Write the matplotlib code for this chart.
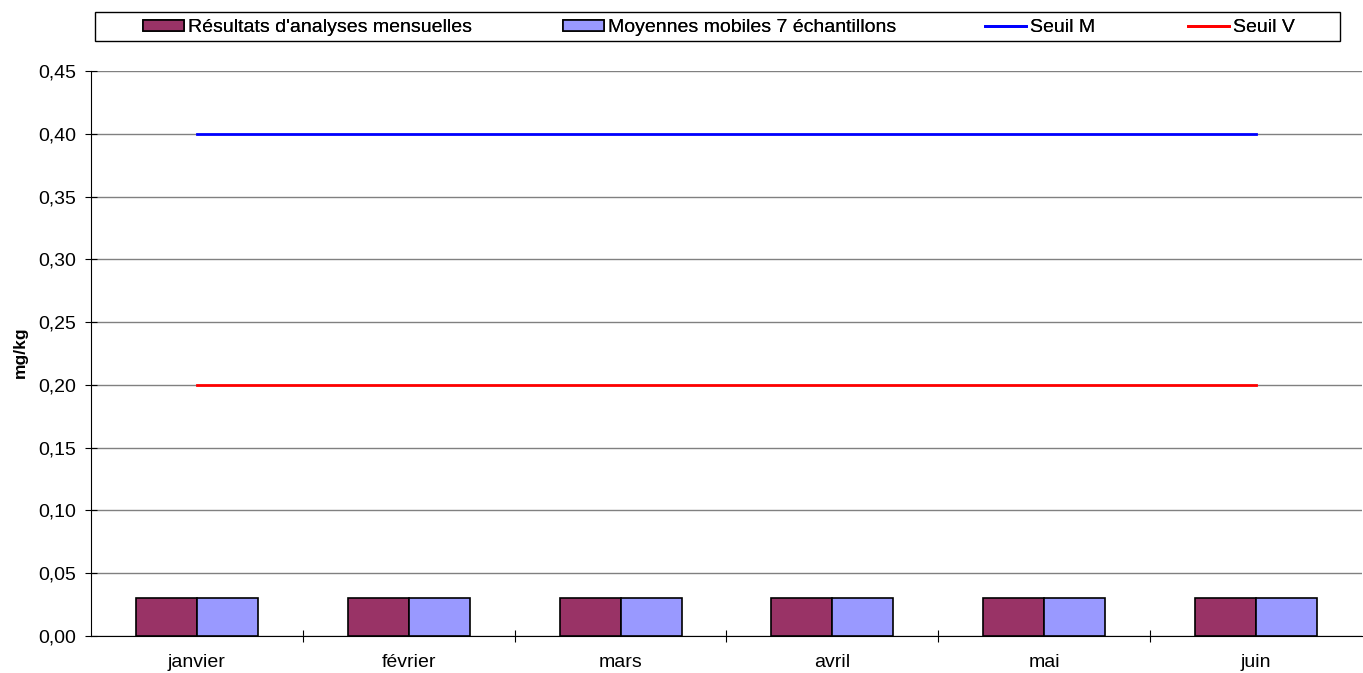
import numpy as np
import matplotlib
matplotlib.use("Agg")
import matplotlib.pyplot as plt
from matplotlib.ticker import FuncFormatter, FixedLocator
from matplotlib.patches import Rectangle

plt.rcParams['font.family'] = ['Liberation Sans', 'DejaVu Sans']

months = ["janvier", "février", "mars", "avril", "mai", "juin"]
resultats = [0.03, 0.03, 0.03, 0.03, 0.03, 0.03]
moyennes = [0.03, 0.03, 0.03, 0.03, 0.03, 0.03]
seuil_m = [0.40, 0.40, 0.40, 0.40, 0.40, 0.40]
seuil_v = [0.20, 0.20, 0.20, 0.20, 0.20, 0.20]
labels = ["Résultats d'analyses mensuelles", "Moyennes mobiles 7 échantillons",
          "Seuil M", "Seuil V"]

W, H = 1363, 673
fig = plt.figure(figsize=(W / 100, H / 100), dpi=100)
ax = fig.add_axes([91/W, 37/H, 1271/W, 565/H])

x = np.arange(len(months))
w = 0.288
b1 = ax.bar(x - w/2, resultats, w, color="#993366", edgecolor="black", linewidth=1.2, zorder=3)
b2 = ax.bar(x + w/2, moyennes, w, color="#9999FF", edgecolor="black", linewidth=1.2, zorder=3)
l1, = ax.plot(x, seuil_m, color="#0000FF", linewidth=2, zorder=4)
l2, = ax.plot(x, seuil_v, color="#FF0000", linewidth=2, zorder=4)

ax.set_xlim(-0.5, len(months) - 0.5)
ax.set_ylim(0, 0.45)
ax.set_yticks(np.arange(0, 0.451, 0.05))
ax.yaxis.set_major_formatter(FuncFormatter(lambda v, p: f"{v:.2f}".replace(".", ",")))
ax.yaxis.grid(True, color="#808080", linewidth=1)
ax.set_axisbelow(True)

ax.xaxis.set_major_locator(FixedLocator(np.arange(0.5, len(months) - 1, 1)))
ax.xaxis.set_major_formatter(FuncFormatter(lambda v, p: ""))
ax.xaxis.set_minor_locator(FixedLocator(x))
ax.set_xticklabels(months, minor=True)
ax.tick_params(axis="x", which="major", direction="inout", length=9, color="black")
ax.tick_params(axis="x", which="minor", length=0, pad=13, labelsize=14)
ax.tick_params(axis="y", direction="inout", length=9, labelsize=14, color="black", pad=6)

for s in ["top", "right"]:
    ax.spines[s].set_visible(False)
ax.spines["left"].set_color("black")
ax.spines["bottom"].set_color("black")

fig.text(20/W, 1 - 352/H, "mg/kg", rotation=90, ha="center", va="center",
         fontweight="bold", fontsize=12.5)

# legend frame + one entry per legend to place items like the original
fig.add_artist(Rectangle((95/W, 1 - 41/H), 1245/W, 29/H, transform=fig.transFigure,
                         fill=False, edgecolor="black", linewidth=1))
handles = [b1, b2, l1, l2]
starts = [143, 563, 985, 1188]
for hnd, lab, xs in zip(handles, labels, starts):
    lg = fig.legend([hnd], [lab], loc="center left", bbox_to_anchor=(xs/W, 1 - 28/H),
                    frameon=False, fontsize=14, borderpad=0, borderaxespad=0,
                    handlelength=2.1, handleheight=0.55, handletextpad=0.2)
    fig.add_artist(lg)

fig.savefig("out.png", dpi=100)
